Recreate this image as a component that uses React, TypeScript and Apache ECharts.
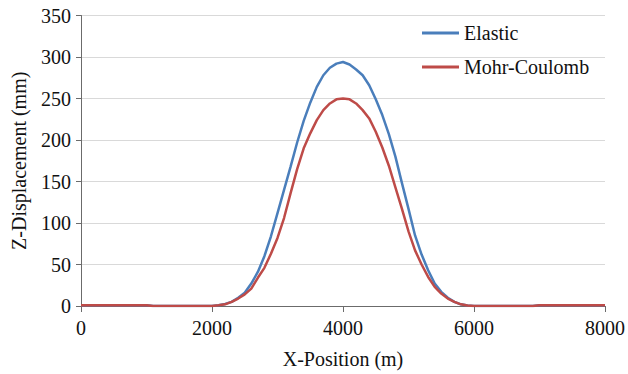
import React, { useEffect, useRef } from "react";
import * as echarts from "echarts";

// X positions along the profile (m)
const positions = [
  0, 500, 1000, 1100, 1500, 2000, 2100, 2200, 2300, 2400, 2500, 2600, 2700, 2800, 2900,
  3000, 3100, 3200, 3300, 3400, 3500, 3600, 3700, 3800, 3900, 4000, 4100, 4200, 4300,
  4400, 4500, 4600, 4700, 4800, 4900, 5000, 5100, 5200, 5300, 5400, 5500, 5600, 5700,
  5800, 5900, 6000, 6500, 6900, 7000, 7500, 8000,
];

// Vertical displacement (mm), elastic model
const elastic = [
  1, 1, 1, 0, 0, 0, 0.8, 2.5, 5, 10, 16, 27, 41, 60, 84,
  112, 140, 168, 197, 223, 245, 264, 278, 287, 292, 294, 291, 285, 278,
  266, 249, 230, 207, 180, 148, 117, 85, 62, 43, 27, 17, 10, 5,
  2, 0.5, 0, 0, 0, 1, 1, 1,
];

// Vertical displacement (mm), Mohr-Coulomb model
const mohrCoulomb = [
  1, 1, 1, 0, 0, 0, 0.8, 2, 5, 9, 14, 21, 34, 46, 63,
  82, 106, 136, 165, 190, 208, 224, 236, 244, 249, 250, 249, 244, 236,
  226, 210, 191, 169, 143, 117, 90, 67, 50, 35, 23, 15, 9, 5,
  2, 0.5, 0, 0, 0, 1, 1, 1,
];

const seriesNames = ["Elastic", "Mohr-Coulomb"];
const seriesColors = ["#4A7EBB", "#BE4B48"];

const FONT = "Liberation Serif";

export default function App() {
  const ref = useRef<HTMLDivElement>(null);

  useEffect(() => {
    if (!ref.current) return;
    const chart = echarts.init(ref.current, undefined, { renderer: "svg" });
    const pairs = (vals: number[]) => positions.map((x, i) => [x, vals[i]]);
    const plain = (v: number) => String(v);
    const txt = () => ({ fontFamily: FONT, fontSize: 20, color: "#111" });

    chart.setOption({
      animation: false,
      backgroundColor: "#ffffff",
      textStyle: { fontFamily: FONT, fontSize: 20 },
      grid: { left: 81, right: 20, top: 15.5, bottom: 66, containLabel: false },
      legend: {
        orient: "vertical",
        left: 417,
        top: 18,
        itemWidth: 37,
        itemHeight: 3,
        itemGap: 14,
        icon: "rect",
        textStyle: txt(),
        data: seriesNames,
      },
      xAxis: {
        type: "value",
        min: 0,
        max: 8000,
        interval: 2000,
        name: "X-Position (m)",
        nameLocation: "middle",
        nameGap: 43,
        nameTextStyle: txt(),
        axisLine: { show: true, lineStyle: { color: "#6b6b6b", width: 1 } },
        axisTick: { show: true, length: 6, lineStyle: { color: "#6b6b6b" } },
        axisLabel: { ...txt(), margin: 12, formatter: plain },
        splitLine: { show: false },
      },
      yAxis: {
        type: "value",
        min: 0,
        max: 350,
        interval: 50,
        name: "Z-Displacement (mm)",
        nameLocation: "middle",
        nameGap: 52,
        nameRotate: 90,
        nameTextStyle: txt(),
        axisLine: { show: true, lineStyle: { color: "#6b6b6b", width: 1 } },
        axisTick: { show: true, length: 5, lineStyle: { color: "#6b6b6b" } },
        axisLabel: { ...txt(), margin: 10, formatter: plain },
        splitLine: { show: true, lineStyle: { color: "#D9D9D9", width: 1 } },
      },
      series: [
        {
          name: seriesNames[0],
          type: "line",
          data: pairs(elastic),
          symbol: "none",
          lineStyle: { color: seriesColors[0], width: 2.5 },
          itemStyle: { color: seriesColors[0] },
        },
        {
          name: seriesNames[1],
          type: "line",
          data: pairs(mohrCoulomb),
          symbol: "none",
          lineStyle: { color: seriesColors[1], width: 2.5 },
          itemStyle: { color: seriesColors[1] },
        },
      ],
    });

    return () => chart.dispose();
  }, []);

  return (
    <div
      ref={ref}
      style={{ position: "fixed", left: 0, top: 0, width: 628, height: 374, background: "#fff" }}
    />
  );
}
